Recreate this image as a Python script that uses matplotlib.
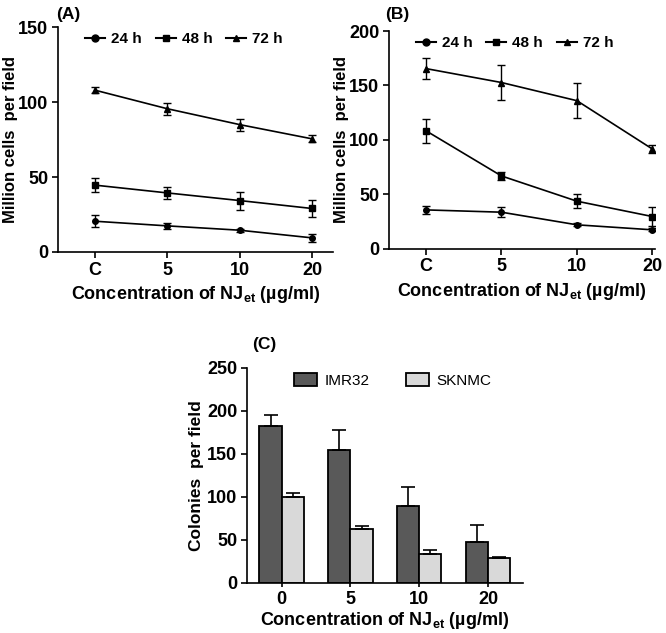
import numpy as np
import matplotlib
matplotlib.use("Agg")
import matplotlib.pyplot as plt
from matplotlib.lines import Line2D

plt.rcParams['font.family'] = ['Liberation Sans', 'DejaVu Sans']
plt.rcParams['font.weight'] = 'bold'
plt.rcParams['mathtext.fontset'] = 'custom'
plt.rcParams['mathtext.rm'] = 'Liberation Sans:bold'
plt.rcParams['mathtext.bf'] = 'Liberation Sans:bold'

# panel A / B: cells per field
conc_labels = ['C', '5', '10', '20']
a_24 = [20.5, 17.4, 14.5, 9.4]
a_24_err = [4, 2, 1, 2.8]
a_48 = [44.6, 39.4, 34.3, 29.0]
a_48_err = [4.5, 4, 6, 5.5]
a_72 = [108, 95.6, 85, 75.5]
a_72_err = [2, 4, 4, 2.3]

b_24 = [35.7, 33.6, 22.0, 17.4]
b_24_err = [4, 4.5, 1.5, 1.5]
b_48 = [108.4, 66.9, 43.7, 29.6]
b_48_err = [11, 4, 6.5, 9]
b_72 = [165.5, 152.7, 136, 91.6]
b_72_err = [10, 16, 16, 4]

# panel C: colonies
col_labels = ['0', '5', '10', '20']
imr32 = [182.7, 154, 90, 47.8]
imr32_err = [13, 24, 22, 19.5]
sknmc = [100, 62.6, 34, 29]
sknmc_err = [5, 3.5, 4, 1.2]

xlab = r"Concentration of NJ$_{\mathbf{et}}$ (µg/ml)"

fig = plt.figure(figsize=(6.66, 6.33), dpi=100)


def style(ax):
    for s in ['top', 'right']:
        ax.spines[s].set_visible(False)
    for s in ['left', 'bottom']:
        ax.spines[s].set_linewidth(1.2)
    ax.tick_params(width=1.2, length=4, labelsize=13, pad=3)
    for t in ax.get_xticklabels() + ax.get_yticklabels():
        t.set_fontweight('bold')


def line_panel(ax, s24, e24, s48, e48, s72, e72):
    x = np.arange(len(conc_labels))
    kw = dict(color='black', lw=1.2, capsize=3, elinewidth=1, capthick=1, ms=4)
    ax.errorbar(x, s24, yerr=e24, marker='o', **kw)
    ax.errorbar(x, s48, yerr=e48, marker='s', **kw)
    ax.errorbar(x, s72, yerr=e72, marker='^', **kw)
    ax.set_xticks(x)
    ax.set_xticklabels(conc_labels)
    ax.set_xlabel(xlab, fontsize=13, fontweight='bold', labelpad=4)
    ax.set_ylabel("Million cells  per field", fontsize=12, fontweight='bold', labelpad=0)
    handles = [Line2D([], [], color='black', lw=1.5, marker=m, ms=5)
               for m in ['o', 's', '^']]
    ax.legend(handles, ['24 h', '48 h', '72 h'], ncol=3, frameon=False,
              loc='upper left', bbox_to_anchor=(0.05, 1.04),
              handlelength=1.3, handletextpad=0.4, columnspacing=0.9,
              prop={'weight': 'bold', 'size': 11})
    style(ax)


axA = fig.add_axes([0.087, 0.602, 0.413, 0.355])
line_panel(axA, a_24, a_24_err, a_48, a_48_err, a_72, a_72_err)
axA.set_ylim(0, 150)
axA.set_yticks([0, 50, 100, 150])
axA.set_xlim(-0.51, 3.29)
fig.text(0.085, 0.977, "(A)", fontsize=12.5, fontweight='bold', va='center')

axB = fig.add_axes([0.584, 0.607, 0.399, 0.344])
line_panel(axB, b_24, b_24_err, b_48, b_48_err, b_72, b_72_err)
axB.set_ylim(0, 200)
axB.set_yticks([0, 50, 100, 150, 200])
axB.set_xlim(-0.49, 3.03)
fig.text(0.578, 0.977, "(B)", fontsize=12.5, fontweight='bold', va='center')

axC = fig.add_axes([0.371, 0.079, 0.414, 0.34])
xc = np.arange(len(col_labels))
w = 0.32
ekw = dict(capsize=5, elinewidth=1.2, capthick=1.2)
axC.bar(xc - w / 2, imr32, w, color='#595959', edgecolor='black', lw=1.3, label='IMR32',
        yerr=[np.zeros(4), imr32_err], error_kw=ekw)
axC.bar(xc + w / 2, sknmc, w, color='#d9d9d9', edgecolor='black', lw=1.3, label='SKNMC',
        yerr=[np.zeros(4), sknmc_err], error_kw=ekw)
axC.set_xticks(xc)
axC.set_xticklabels(col_labels)
axC.set_xlim(-0.5, 3.5)
axC.set_ylim(0, 250)
axC.set_yticks([0, 50, 100, 150, 200, 250])
axC.set_xlabel(xlab, fontsize=13, fontweight='bold', labelpad=1)
axC.set_ylabel("Colonies  per field", fontsize=12.5, fontweight='bold', labelpad=2)
axC.legend(ncol=2, frameon=False, loc='upper left', bbox_to_anchor=(0.12, 1.04),
           handlelength=1.5, handleheight=0.9, handletextpad=0.5, columnspacing=2.4,
           prop={'weight': 'normal', 'size': 11})
style(axC)
axC.tick_params(axis='x', length=3)
fig.text(0.378, 0.455, "(C)", fontsize=12.5, fontweight='bold', va='center')

fig.savefig("out.png", dpi=100)
